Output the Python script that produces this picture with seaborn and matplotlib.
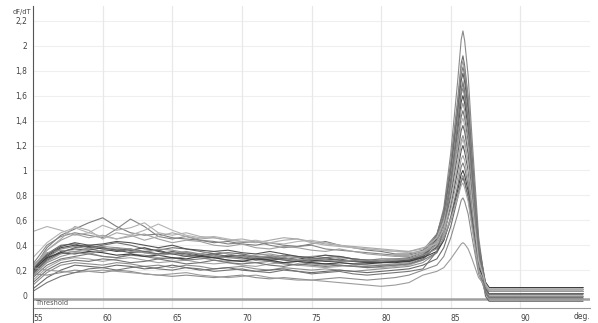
import matplotlib
matplotlib.use("Agg")
import matplotlib.pyplot as plt
import seaborn as sns
import pandas as pd
from matplotlib.ticker import FuncFormatter
from matplotlib.lines import Line2D

# temperature grid (deg) - coarse on the baseline, finer around the melt peak
temps_base = [55, 56, 57, 58, 59, 60, 61, 62, 63, 64, 65, 66, 67, 68,
              69, 70, 71, 72, 73, 74, 75, 76, 77, 78, 79, 80, 81, 82]
temps_peak = [83, 84, 84.5, 85, 85.5, 85.75, 85.875, 86, 86.25, 86.5, 87, 87.5, 87.75, 94.5]

# dF/dT readings, one list per well
curve_01 = [.20, .30, .37, .39, .37, .35, .37, .36, .34, .33, .34, .32, .31, .32, .30, .29, .30, .31, .29, .28, .28, .29, .28, .27, .26, .26, .27, .28,
            .32, .48, .70, 1.14, 1.72, 2.05, 2.12, 2.04, 1.76, 1.31, .47, .05, .01, .01]
curve_02 = [.22, .33, .40, .41, .38, .40, .42, .40, .37, .36, .38, .37, .35, .33, .34, .33, .31, .30, .32, .31, .29, .30, .31, .29, .28, .29, .29, .30,
            .34, .48, .67, 1.06, 1.57, 1.86, 1.92, 1.84, 1.59, 1.19, .42, .085, .045, .045]
curve_03 = [.15, .27, .33, .35, .34, .31, .30, .33, .32, .30, .29, .31, .30, .28, .27, .28, .29, .27, .26, .27, .25, .24, .26, .25, .24, .24, .25, .26,
            .30, .44, .63, 1.02, 1.53, 1.82, 1.88, 1.80, 1.56, 1.17, .41, .03, -.01, -.01]
curve_04 = [.21, .38, .48, .53, .58, .62, .55, .50, .48, .49, .46, .45, .44, .42, .43, .41, .40, .42, .40, .39, .41, .43, .40, .38, .36, .35, .33, .33,
            .36, .49, .67, 1.03, 1.50, 1.77, 1.83, 1.76, 1.52, 1.13, .40, .10, .06, .06]
curve_05 = [.18, .29, .35, .37, .36, .38, .36, .34, .35, .36, .33, .31, .32, .33, .31, .30, .28, .29, .30, .28, .27, .28, .29, .27, .26, .27, .27, .28,
            .32, .45, .63, .98, 1.45, 1.72, 1.78, 1.71, 1.48, 1.10, .39, .07, .03, .03]
curve_06 = [.12, .22, .28, .30, .29, .27, .29, .30, .28, .26, .27, .28, .26, .25, .26, .24, .23, .25, .26, .24, .23, .22, .23, .24, .22, .22, .23, .24,
            .28, .41, .58, .93, 1.40, 1.66, 1.72, 1.65, 1.43, 1.07, .38, .01, -.03, -.03]
curve_07 = [.25, .40, .47, .50, .48, .46, .53, .61, .55, .47, .45, .47, .44, .43, .41, .42, .43, .40, .38, .39, .40, .37, .36, .35, .34, .33, .32, .32,
            .35, .46, .62, .94, 1.37, 1.61, 1.66, 1.59, 1.38, 1.03, .37, .085, .045, .045]
curve_08 = [.19, .31, .38, .40, .39, .37, .35, .36, .38, .35, .33, .34, .32, .30, .31, .32, .30, .28, .29, .30, .28, .27, .27, .28, .26, .26, .27, .27,
            .31, .42, .58, .89, 1.31, 1.55, 1.60, 1.54, 1.33, .99, .35, .05, .01, .01]
curve_09 = [.24, .34, .36, .35, .37, .39, .38, .35, .34, .37, .36, .34, .33, .35, .33, .31, .32, .33, .31, .30, .31, .32, .30, .29, .28, .28, .29, .29,
            .33, .43, .58, .88, 1.27, 1.49, 1.54, 1.48, 1.28, .95, .34, .03, -.01, -.01]
curve_10 = [.10, .20, .26, .28, .27, .29, .28, .26, .27, .29, .27, .25, .26, .28, .26, .25, .26, .24, .23, .25, .24, .23, .24, .23, .22, .23, .24, .25,
            .29, .39, .54, .83, 1.21, 1.43, 1.48, 1.42, 1.23, .92, .33, .10, .06, .06]
curve_11 = [.51, .55, .52, .48, .50, .56, .52, .54, .58, .50, .48, .50, .47, .46, .44, .45, .43, .42, .44, .45, .42, .40, .39, .38, .37, .36, .35, .35,
            .37, .46, .59, .84, 1.18, 1.38, 1.42, 1.36, 1.18, .88, .31, .07, .03, .03]
curve_12 = [.17, .28, .34, .38, .40, .38, .36, .37, .35, .33, .35, .33, .31, .30, .32, .31, .29, .30, .28, .27, .29, .30, .28, .27, .27, .27, .28, .29,
            .32, .41, .53, .79, 1.13, 1.32, 1.36, 1.31, 1.13, .84, .30, -.01, -.05, -.05]
curve_13 = [.08, .18, .24, .26, .25, .24, .26, .25, .23, .24, .22, .24, .23, .21, .22, .23, .21, .20, .22, .21, .20, .21, .20, .19, .20, .21, .22, .23,
            .26, .34, .47, .72, 1.05, 1.24, 1.28, 1.23, 1.06, .79, .28, .085, .045, .045]
curve_14 = [.21, .32, .39, .42, .40, .41, .43, .42, .40, .38, .40, .37, .36, .35, .36, .34, .33, .35, .33, .31, .30, .32, .31, .29, .28, .27, .27, .28,
            .31, .38, .49, .71, 1.00, 1.16, 1.20, 1.15, 1.00, .74, .26, .05, .01, .01]
curve_15 = [.23, .36, .44, .49, .46, .48, .45, .47, .49, .45, .42, .44, .43, .40, .39, .41, .38, .37, .39, .38, .36, .35, .37, .35, .33, .32, .31, .31,
            .34, .40, .50, .69, .94, 1.09, 1.12, 1.08, .93, .69, .25, .03, -.01, -.01]
curve_16 = [.14, .24, .29, .31, .33, .31, .30, .32, .31, .29, .30, .28, .29, .30, .28, .27, .26, .27, .25, .24, .26, .25, .24, .23, .23, .24, .24, .25,
            .28, .34, .44, .63, .88, 1.03, 1.06, 1.02, .88, .66, .23, .07, .03, .03]
curve_17 = [.20, .30, .34, .33, .35, .34, .32, .33, .31, .32, .30, .29, .31, .30, .28, .27, .29, .28, .26, .27, .26, .25, .26, .25, .25, .26, .26, .27,
            .30, .35, .44, .61, .84, .97, 1.00, .96, .83, .62, .22, .10, .06, .06]
curve_18 = [.16, .26, .31, .34, .33, .36, .38, .37, .34, .32, .33, .35, .33, .31, .30, .31, .30, .32, .30, .28, .29, .28, .27, .28, .28, .27, .28, .29,
            .32, .37, .45, .60, .81, .93, .96, .92, .80, .60, .21, .01, -.03, -.03]
curve_19 = [.05, .14, .20, .24, .23, .22, .24, .23, .21, .22, .24, .22, .20, .21, .22, .20, .19, .20, .21, .19, .18, .19, .20, .19, .18, .19, .20, .21,
            .24, .29, .38, .55, .78, .91, .94, .90, .78, .58, .21, .05, .01, .01]
curve_20 = [.22, .36, .45, .55, .52, .45, .50, .48, .44, .47, .50, .47, .45, .46, .44, .43, .42, .44, .46, .45, .43, .41, .40, .39, .38, .37, .36, .35,
            .38, .41, .48, .61, .78, .88, .90, .86, .75, .56, .20, .085, .045, .045]
curve_21 = [.17, .16, .18, .20, .19, .18, .20, .19, .17, .16, .15, .16, .15, .14, .15, .16, .14, .13, .14, .13, .12, .13, .14, .13, .12, .13, .14, .16,
            .20, .24, .31, .46, .65, .76, .78, .75, .65, .48, .17, .03, -.01, -.01]
curve_22 = [.22, .20, .19, .18, .19, .20, .19, .18, .17, .16, .17, .18, .16, .15, .14, .15, .16, .14, .13, .12, .12, .11, .10, .09, .08, .07, .08, .10,
            .16, .19, .22, .29, .37, .41, .42, .41, .37, .30, .14, .07, .03, .03]
curve_23 = [.03, .10, .15, .18, .21, .22, .20, .22, .23, .21, .20, .22, .21, .19, .20, .21, .19, .18, .20, .19, .17, .18, .19, .17, .16, .17, .18, .19,
            .21, .35, .53, .89, 1.37, 1.64, 1.70, 1.63, 1.41, 1.05, .37, .02, -.02, -.02]
curve_24 = [.30, .42, .50, .54, .50, .47, .45, .48, .52, .57, .52, .48, .46, .47, .45, .43, .44, .42, .41, .43, .44, .42, .40, .38, .37, .36, .35, .34,
            .35, .42, .53, .75, 1.05, 1.21, 1.25, 1.20, 1.04, .78, .28, .09, .05, .05]

curves = [curve_01, curve_02, curve_03, curve_04, curve_05, curve_06, curve_07, curve_08,
          curve_09, curve_10, curve_11, curve_12, curve_13, curve_14, curve_15, curve_16,
          curve_17, curve_18, curve_19, curve_20, curve_21, curve_22, curve_23, curve_24]

line_greys = ["#8a8a8a", "#6e6e6e", "#9a9a9a", "#7c7c7c", "#5c5c5c", "#a4a4a4",
              "#858585", "#4a4a4a", "#959595", "#747474", "#b0b0b0", "#666666",
              "#8f8f8f", "#545454", "#a0a0a0", "#7a7a7a", "#3e3e3e", "#909090",
              "#6a6a6a", "#a8a8a8", "#8c8c8c", "#9c9c9c", "#767676", "#b4b4b4"]

y_ticks = [0, 0.2, 0.4, 0.6, 0.8, 1.0, 1.2, 1.4, 1.6, 1.8, 2.0, 2.2]
x_ticks = [55, 60, 65, 70, 75, 80, 85, 90]
threshold = -0.03

temps = temps_base + temps_peak
rows = []
for i, c in enumerate(curves):
    for t, v in zip(temps, c):
        rows.append({"well": f"w{i+1:02d}", "temp": t, "dfdt": v})
df = pd.DataFrame(rows)

sns.set_style("white")
plt.rcParams["font.family"] = ["DejaVu Sans"]

fig = plt.figure(figsize=(5.98, 3.23), dpi=100)
ax = fig.add_axes([33 / 598, 15 / 323, 557 / 598, 302 / 323])

for y in y_ticks[1:]:
    ax.axhline(y, color="#efefef", lw=0.8, zorder=0)
for x in x_ticks[1:]:
    ax.axvline(x, color="#e8e8e8", lw=0.9, zorder=0)

ax.axhline(threshold, color="#a0a0a0", lw=1.8, zorder=1)
ax.text(55.2, threshold - 0.012, "Threshold", fontsize=4.8, color="#555555", va="top", ha="left")

sns.lineplot(data=df, x="temp", y="dfdt", hue="well", units="well", estimator=None,
             palette=line_greys, legend=False, linewidth=0.8, ax=ax, zorder=2)

ax.set_xlim(55, 95)
ax.set_ylim(-0.104, 2.32)
ax.set_xticks(x_ticks)
ax.set_yticks(y_ticks)
ax.yaxis.set_major_formatter(FuncFormatter(lambda v, p: f"{v:g}".replace(".", ",")))
ax.set_xticklabels([str(t) for t in x_ticks], ha="left")
ax.tick_params(axis="x", length=4, width=0.6, color="#555555", labelsize=5.5, labelcolor="#444444", pad=0.5)
ax.tick_params(axis="y", length=3, width=0.6, color="#555555", labelsize=5.5, labelcolor="#444444", pad=1)
ax.set_xlabel("")
ax.set_ylabel("")

sns.despine(ax=ax)
ax.spines["left"].set_color("#555555")
ax.spines["left"].set_linewidth(0.8)
ax.spines["bottom"].set_color("#999999")
ax.spines["bottom"].set_linewidth(0.8)

# y axis line runs on below the x axis, as in the instrument software
fig.add_artist(Line2D([33 / 598, 33 / 598], [0, 15 / 323], color="#555555", lw=0.8))

fig.text(0.053, 0.962, "dF/dT", fontsize=4.8, color="#444444", ha="right", va="center")
ax.text(1.0, -0.012, "deg.", transform=ax.transAxes, fontsize=5.5, color="#444444", ha="right", va="top")

fig.savefig("out.png", dpi=100)
